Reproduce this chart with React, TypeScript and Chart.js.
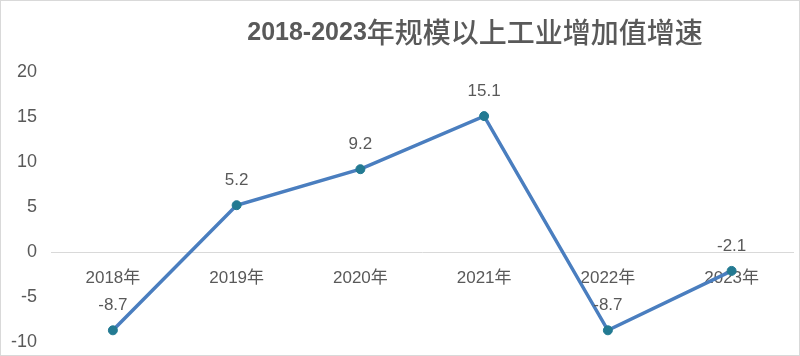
import React, { useEffect, useRef } from "react";
import { Chart, registerables } from "chart.js";

Chart.register(...registerables);

const titlePrefix = "2018-2023";
const titleSuffix = "年规模以上工业增加值增速";
const categories = ["2018年", "2019年", "2020年", "2021年", "2022年", "2023年"];
const growth = [-8.7, 5.2, 9.2, 15.1, -8.7, -2.1];
const yMin = -10;
const yMax = 20;
const yStep = 5;

const GRAY = "#595959";
const CJK = "'Noto Sans CJK SC', 'Liberation Sans', sans-serif";

const titlePlugin = {
  id: "customTitle",
  afterDraw(chart: any) {
    const ctx = chart.ctx;
    ctx.save();
    ctx.fillStyle = GRAY;
    ctx.textBaseline = "middle";
    const boldFont = `bold 25px 'Liberation Sans', sans-serif`;
    const cjkFont = `500 28px ${CJK}`;
    ctx.font = boldFont;
    const w1 = ctx.measureText(titlePrefix).width;
    ctx.font = cjkFont;
    const w2 = ctx.measureText(titleSuffix).width;
    const total = w1 + w2;
    const cx = chart.width * 0.594;
    const x = cx - total / 2;
    const y = 31;
    ctx.textAlign = "left";
    ctx.font = boldFont;
    ctx.fillText(titlePrefix, x, y + 1);
    ctx.font = cjkFont;
    ctx.fillText(titleSuffix, x + w1, y);
    ctx.restore();
  },
};

const valueLabelPlugin = {
  id: "valueLabels",
  afterDatasetsDraw(chart: any) {
    const ctx = chart.ctx;
    const meta = chart.getDatasetMeta(0);
    const data = chart.data.datasets[0].data;
    ctx.save();
    ctx.fillStyle = GRAY;
    ctx.font = `17px 'Liberation Sans', ${CJK}`;
    ctx.textAlign = "center";
    ctx.textBaseline = "middle";
    meta.data.forEach((pt: any, i: number) => {
      ctx.fillText(String(data[i]), pt.x, pt.y - 25);
    });
    ctx.restore();
  },
};

export default function App() {
  const ref = useRef<HTMLCanvasElement>(null);
  useEffect(() => {
    document.body.style.margin = "0";
    const chart = new Chart(ref.current!, {
      type: "line",
      data: {
        labels: categories,
        datasets: [
          {
            data: growth,
            borderColor: "#4a7ebf",
            borderWidth: 3.5,
            pointBackgroundColor: "#237a92",
            pointBorderColor: "#237a92",
            pointRadius: 4.5,
            pointBorderWidth: 1,
            tension: 0,
          },
        ],
      },
      options: {
        responsive: false,
        animation: false,
        layout: { padding: { top: 71, bottom: 13, left: 0, right: 3 } },
        plugins: {
          legend: { display: false },
          title: { display: false },
          tooltip: { enabled: false },
        },
        scales: {
          x: {
            offset: true,
            position: { y: 0 } as any,
            grid: { display: false, drawTicks: false, offset: true },
            border: { display: true, color: "#d9d9d9", width: 1 },
            afterFit: (scale: any) => {
              scale.height = 0;
            },
            ticks: {
              color: GRAY,
              font: { size: 17, family: `'Liberation Sans', ${CJK}` },
              padding: 16,
              maxRotation: 0,
            },
          },
          y: {
            min: yMin,
            max: yMax,
            grid: { display: false, drawTicks: false },
            border: { display: false },
            afterFit: (scale: any) => {
              scale.width = 50;
              scale.paddingTop = 0;
              scale.paddingBottom = 0;
            },
            ticks: {
              stepSize: yStep,
              color: GRAY,
              font: { size: 18, family: `'Liberation Sans', ${CJK}` },
              padding: 14,
            },
          },
        },
      },
      plugins: [titlePlugin, valueLabelPlugin],
    });
    return () => chart.destroy();
  }, []);
  return (
    <div
      style={{
        position: "absolute",
        left: 0,
        top: 0,
        width: 800,
        height: 356,
        border: "1px solid #d9d9d9",
        boxSizing: "border-box",
        background: "#fff",
        overflow: "hidden",
      }}
    >
      <canvas
        ref={ref}
        width={798}
        height={354}
        style={{ display: "block" }}
      />
    </div>
  );
}
